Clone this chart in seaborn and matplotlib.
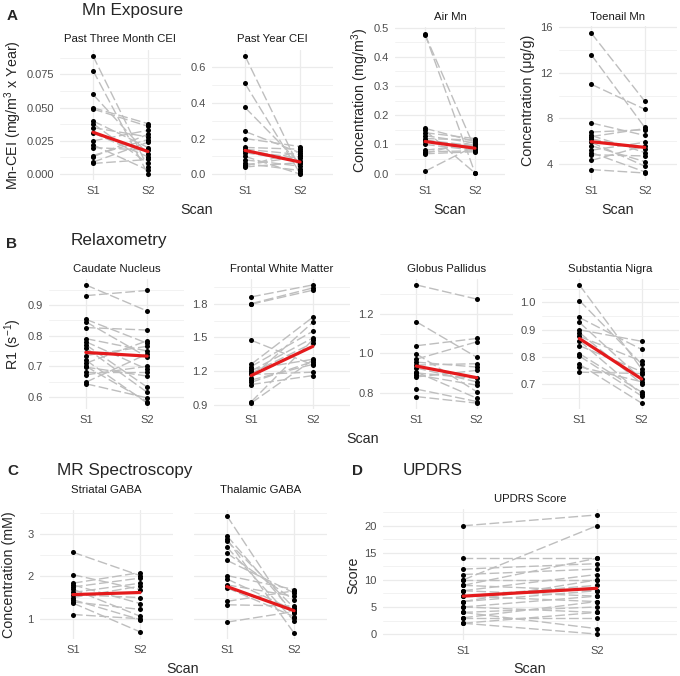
import matplotlib
matplotlib.use("Agg")
import matplotlib.pyplot as plt
import pandas as pd
import seaborn as sns
from matplotlib.ticker import MultipleLocator

# -------------------------------
# Data
# -------------------------------

scan_labels = ["S1", "S2"]

# A - Mn exposure
cei3_s1 = [0.089, 0.078, 0.060, 0.050, 0.049, 0.040, 0.038, 0.035, 0.031, 0.025, 0.022, 0.020, 0.014, 0.013, 0.009, 0.008]
cei3_s2 = [0.005, 0.000, 0.015, 0.038, 0.036, 0.020, 0.008, 0.028, 0.013, 0.033, 0.003, 0.018, 0.026, 0.030, 0.024, 0.011]
cei3_mean = [0.0315, 0.017]
cei3_ticks = [0.0, 0.025, 0.05, 0.075]
cei3_labels = ["0.000", "0.025", "0.050", "0.075"]

ceiyr_s1 = [0.665, 0.510, 0.375, 0.240, 0.200, 0.150, 0.140, 0.130, 0.120, 0.100, 0.080, 0.060, 0.050, 0.045, 0.040]
ceiyr_s2 = [0.030, 0.005, 0.060, 0.120, 0.155, 0.140, 0.110, 0.090, 0.075, 0.000, 0.045, 0.020, 0.100, 0.130, 0.065]
ceiyr_mean = [0.133, 0.068]
ceiyr_ticks = [0.0, 0.2, 0.4, 0.6]
ceiyr_labels = ["0.0", "0.2", "0.4", "0.6"]

air_s1 = [0.478, 0.476, 0.155, 0.148, 0.140, 0.130, 0.120, 0.115, 0.110, 0.100, 0.080, 0.075, 0.070, 0.068, 0.008]
air_s2 = [0.002, 0.085, 0.110, 0.002, 0.120, 0.105, 0.115, 0.095, 0.090, 0.080, 0.100, 0.078, 0.110, 0.075, 0.095]
air_mean = [0.110, 0.087]
air_ticks = [0.0, 0.1, 0.2, 0.3, 0.4, 0.5]
air_labels = ["0.0", "0.1", "0.2", "0.3", "0.4", "0.5"]

toe_s1 = [15.5, 13.6, 11.0, 7.6, 6.8, 6.5, 6.2, 5.9, 5.6, 5.2, 5.0, 4.8, 4.3, 3.5, 6.4]
toe_s2 = [9.5, 7.2, 8.8, 6.5, 7.0, 5.0, 5.3, 3.8, 4.2, 5.9, 3.3, 4.7, 5.6, 3.2, 7.1]
toe_mean = [5.95, 5.45]
toe_ticks = [4, 8, 12, 16]
toe_labels = ["4", "8", "12", "16"]

# B - Relaxometry
caud_s1 = [0.965, 0.930, 0.853, 0.845, 0.826, 0.790, 0.780, 0.770, 0.760, 0.735, 0.720, 0.710, 0.700, 0.697, 0.680, 0.672, 0.648, 0.643]
caud_s2 = [0.880, 0.947, 0.775, 0.730, 0.818, 0.750, 0.690, 0.632, 0.615, 0.765, 0.580, 0.783, 0.585, 0.668, 0.680, 0.700, 0.740, 0.597]
caud_mean = [0.745, 0.733]
caud_ticks = [0.6, 0.7, 0.8, 0.9]
caud_labels = ["0.6", "0.7", "0.8", "0.9"]

fwm_s1 = [1.86, 1.80, 1.795, 1.475, 1.26, 1.24, 1.215, 1.20, 1.18, 1.17, 1.14, 1.12, 1.10, 1.08, 0.925, 0.915]
fwm_s2 = [1.967, 1.94, 1.92, 1.255, 1.68, 1.555, 1.305, 1.495, 1.45, 1.19, 1.635, 1.26, 1.285, 1.16, 1.48, 1.30]
fwm_mean = [1.16, 1.42]
fwm_ticks = [0.9, 1.2, 1.5, 1.8]
fwm_labels = ["0.9", "1.2", "1.5", "1.8"]

gp_s1 = [1.347, 1.160, 1.038, 0.997, 0.970, 0.955, 0.940, 0.925, 0.905, 0.900, 0.890, 0.880, 0.818, 0.780]
gp_s2 = [1.275, 0.980, 1.075, 0.805, 1.058, 0.930, 0.947, 0.855, 0.772, 0.872, 0.838, 0.913, 0.755, 0.747]
gp_mean = [0.935, 0.876]
gp_ticks = [0.8, 1.0, 1.2]
gp_labels = ["0.8", "1.0", "1.2"]

sn_s1 = [1.064, 1.007, 0.945, 0.927, 0.900, 0.890, 0.876, 0.860, 0.842, 0.813, 0.804, 0.774, 0.765, 0.745]
sn_s2 = [0.757, 0.775, 0.828, 0.720, 0.858, 0.703, 0.785, 0.664, 0.747, 0.672, 0.658, 0.632, 0.710, 0.740]
sn_mean = [0.868, 0.720]
sn_ticks = [0.7, 0.8, 0.9, 1.0]
sn_labels = ["0.7", "0.8", "0.9", "1.0"]

# C - MR spectroscopy
str_s1 = [2.57, 2.04, 1.84, 1.80, 1.75, 1.70, 1.62, 1.57, 1.50, 1.45, 1.40, 1.37, 1.10]
str_s2 = [2.02, 1.69, 2.09, 1.36, 1.96, 1.06, 1.84, 1.50, 1.77, 0.98, 1.22, 0.69, 1.00]
str_mean = [1.57, 1.62]

thal_s1 = [3.43, 2.96, 2.88, 2.84, 2.69, 2.55, 2.38, 2.02, 1.94, 1.80, 1.73, 1.41, 1.33, 0.92]
thal_s2 = [1.02, 1.13, 0.66, 1.26, 0.95, 1.44, 1.61, 1.69, 1.20, 1.53, 1.05, 1.66, 1.30, 1.17]
thal_mean = [1.76, 1.19]
gaba_ticks = [1, 2, 3]
gaba_labels = ["1", "2", "3"]

# D - UPDRS
updrs_s1 = [20, 14, 12, 11, 10, 10, 9, 9, 8, 8, 7, 7, 6, 6, 5, 5, 4, 4, 3, 3, 2, 2]
updrs_s2 = [22, 14, 13, 12, 20, 10, 14, 8, 11, 7, 9, 6, 8, 10, 7, 4, 5, 1, 3, 6, 0, 4]
updrs_mean = [7.0, 8.45]
updrs_ticks = [0, 5, 10, 15, 20]
updrs_labels = ["0", "5", "10", "15", "20"]

# -------------------------------
# Figure setup
# -------------------------------

W, H = 680, 676
sns.set_theme(style="white")
plt.rcParams["font.family"] = ["Liberation Sans", "DejaVu Sans"]
plt.rcParams["mathtext.fontset"] = "custom"
plt.rcParams["mathtext.rm"] = "Liberation Sans"
plt.rcParams["mathtext.it"] = "Liberation Sans:italic"

fig = plt.figure(figsize=(W / 100, H / 100), dpi=100)
fig.patch.set_facecolor("white")

GREY_LINE = "#BEBEBE"
RED = "#E41A1C"
TICK_COL = "#4D4D4D"


def txt(x, y, s, **kw):
    kw.setdefault("ha", "center")
    kw.setdefault("va", "baseline")
    fig.text(x / W, 1 - y / H, s, **kw)


def yrange(*series):
    vals = [v for s in series for v in s]
    lo, hi = min(vals), max(vals)
    pad = 0.05 * (hi - lo)
    return lo - pad, hi + pad


def panel(box, s1, s2, mean, ticks, labels, minor, ylim, xpad=0.6, show_y=True):
    l, t, r, b = box
    ax = fig.add_axes([l / W, 1 - b / H, (r - l) / W, (b - t) / H])
    n = len(s1)
    df = pd.DataFrame({
        "subject": list(range(n)) * 2,
        "scan": [0] * n + [1] * n,
        "value": list(s1) + list(s2),
    })
    sns.lineplot(data=df, x="scan", y="value", units="subject", estimator=None,
                 color=GREY_LINE, lw=1.0, linestyle=(0, (7, 2.5)), ax=ax,
                 legend=False, zorder=2)
    sns.scatterplot(data=df, x="scan", y="value", color="black", s=13,
                    linewidth=0, ax=ax, zorder=3, legend=False)
    sns.lineplot(x=[0, 1], y=mean, color=RED, lw=2.3, ax=ax, zorder=4)

    ax.set_xlim(-xpad, 1 + xpad)
    ax.set_ylim(*ylim)
    ax.set_xticks([0, 1], labels=scan_labels)
    ax.set_yticks(ticks, labels=labels if show_y else [""] * len(ticks))
    ax.yaxis.set_minor_locator(MultipleLocator(minor))
    ax.grid(which="major", color="#EBEBEB", lw=0.9)
    ax.grid(which="minor", axis="y", color="#F0F0F0", lw=0.6)
    ax.set_axisbelow(True)
    ax.tick_params(which="both", length=0, labelsize=8, labelcolor=TICK_COL, pad=4.5)
    sns.despine(ax=ax, left=True, bottom=True)
    ax.set_xlabel("")
    ax.set_ylabel("")
    ax.set_facecolor("white")
    return ax


def strip(box, y, s, size=8.2):
    l, t, r, b = box
    txt((l + r) / 2, y, s, fontsize=size, color="#1A1A1A")


# -------------------------------
# A - Mn Exposure
# -------------------------------

box = (60, 50, 181, 180)
panel(box, cei3_s1, cei3_s2, cei3_mean, cei3_ticks, cei3_labels, 0.0125, yrange(cei3_s1, cei3_s2))
strip(box, 42, "Past Three Month CEI")

box = (212, 50, 333, 180)
panel(box, ceiyr_s1, ceiyr_s2, ceiyr_mean, ceiyr_ticks, ceiyr_labels, 0.1, yrange(ceiyr_s1, ceiyr_s2))
strip(box, 42, "Past Year CEI")

box = (395, 27, 505, 180)
panel(box, air_s1, air_s2, air_mean, air_ticks, air_labels, 0.05, yrange(air_s1, air_s2))
strip(box, 20, "Air Mn")

box = (559, 26, 677, 180)
panel(box, toe_s1, toe_s2, toe_mean, toe_ticks, toe_labels, 2, yrange(toe_s1, toe_s2))
strip(box, 20, "Toenail Mn")

txt(7, 20, "A", ha="left", fontsize=11, fontweight="bold")
txt(82, 15, "Mn Exposure", ha="left", fontsize=12.3)
txt(13, 115, "Mn-CEI (mg/m$^3$ x Year)", va="center", rotation=90, fontsize=10.3)
txt(360, 100, "Concentration (mg/m$^3$)", va="center", rotation=90, fontsize=10.3)
txt(528, 100, "Concentration (\u03bcg/g)", va="center", rotation=90, fontsize=10.3)
txt(197, 214, "Scan", fontsize=10.3)
txt(450, 214, "Scan", fontsize=10.3)
txt(618, 214, "Scan", fontsize=10.3)

# -------------------------------
# B - Relaxometry
# -------------------------------

box = (49, 279, 184, 409)
panel(box, caud_s1, caud_s2, caud_mean, caud_ticks, caud_labels, 0.05, yrange(caud_s1, caud_s2))
strip(box, 272, "Caudate Nucleus")

box = (214, 279, 350, 409)
panel(box, fwm_s1, fwm_s2, fwm_mean, fwm_ticks, fwm_labels, 0.15, yrange(fwm_s1, fwm_s2))
strip(box, 272, "Frontal White Matter")

box = (380, 279, 513, 409)
panel(box, gp_s1, gp_s2, gp_mean, gp_ticks, gp_labels, 0.1, yrange(gp_s1, gp_s2))
strip(box, 272, "Globus Pallidus")

box = (542, 279, 679, 409)
panel(box, sn_s1, sn_s2, sn_mean, sn_ticks, sn_labels, 0.05, yrange(sn_s1, sn_s2))
strip(box, 272, "Substantia Nigra")

txt(6, 248, "B", ha="left", fontsize=11, fontweight="bold")
txt(71, 245, "Relaxometry", ha="left", fontsize=12.3)
txt(13, 344, "R1 (s$^{-1}$)", va="center", rotation=90, fontsize=10.3)
txt(363, 443, "Scan", fontsize=10.3)

# -------------------------------
# C - MR Spectroscopy
# -------------------------------

gaba_lim = yrange(str_s1, str_s2, thal_s1, thal_s2)

box = (40, 510, 173, 639)
panel(box, str_s1, str_s2, str_mean, gaba_ticks, gaba_labels, 0.5, gaba_lim, xpad=0.49)
strip(box, 493, "Striatal GABA")

box = (194, 510, 327, 639)
panel(box, thal_s1, thal_s2, thal_mean, gaba_ticks, gaba_labels, 0.5, gaba_lim, xpad=0.49, show_y=False)
strip(box, 493, "Thalamic GABA")

txt(7, 475, "C", ha="left", fontsize=11, fontweight="bold")
txt(57, 475, "MR Spectroscopy", ha="left", fontsize=12.3)
txt(9, 575, "Concentration (mM)", va="center", rotation=90, fontsize=10.3)
txt(183, 673, "Scan", fontsize=10.3)

# -------------------------------
# D - UPDRS
# -------------------------------

box = (383, 509, 677, 640)
panel(box, updrs_s1, updrs_s2, updrs_mean, updrs_ticks, updrs_labels, 2.5, yrange(updrs_s1, updrs_s2))
strip(box, 502, "UPDRS Score")

txt(352, 475, "D", ha="left", fontsize=11, fontweight="bold")
txt(403, 475, "UPDRS", ha="left", fontsize=12.3)
txt(353, 575, "Score", va="center", rotation=90, fontsize=10.3)
txt(530, 673, "Scan", fontsize=10.3)

fig.savefig("out.png", dpi=100, facecolor="white")
